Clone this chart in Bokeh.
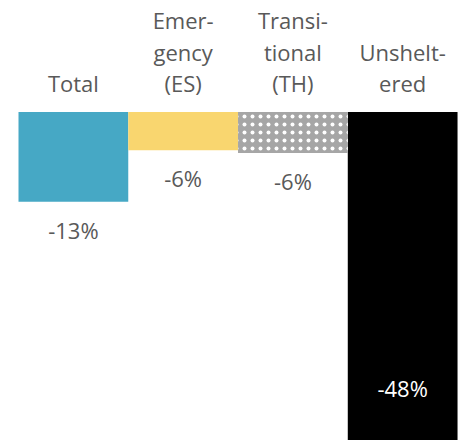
from bokeh.plotting import figure
from bokeh.models import ColumnDataSource, Range1d
from bokeh.core.properties import value
from bokeh.embed import file_html
from bokeh.resources import INLINE

# Data
categories = ["Total", "Emer-\ngency\n(ES)", "Transi-\ntional\n(TH)", "Unshelt-\nered"]
changes = [-13.1, -5.6, -6.0, -48.0]
colors = ["#46A8C5", "#F9D66F", "#A6A6A6", "#000000"]

FONT = "Open Sans"
TEXT_GRAY = "#595959"

p = figure(width=460, height=440, output_backend="svg", toolbar_location=None,
           x_range=Range1d(-0.664, 3.527), y_range=Range1d(-48.0, 16.29),
           min_border=0, background_fill_color="white", border_fill_color="white")
p.xaxis.visible = False
p.yaxis.visible = False
p.grid.visible = False
p.outline_line_color = None

xs = list(range(len(categories)))
plain = [i for i in xs if i != 2]
src = ColumnDataSource(dict(x=[xs[i] for i in plain], top=[0] * len(plain),
                            bottom=[changes[i] for i in plain],
                            color=[colors[i] for i in plain]))
p.vbar(x="x", top="top", bottom="bottom", width=1.0, fill_color="color",
       line_color=None, source=src)

# dotted (hatched) bar
p.vbar(x=[xs[2]], top=[0], bottom=[changes[2]], width=1.0, fill_color=colors[2],
       line_color=None, hatch_pattern="dot", hatch_color="white",
       hatch_scale=8, hatch_weight=1.3)

# header category labels (multi-line, bottom aligned)
hx, htxt, hoff = [], [], []
for i, lab in enumerate(categories):
    lines = lab.split("\n")
    n = len(lines)
    for j, line in enumerate(lines):
        k = n - 1 - j
        hx.append(xs[i])
        htxt.append(line)
        hoff.append(-(28.5 + 31.5 * k))
hsrc = ColumnDataSource(dict(x=hx, y=[0] * len(hx), text=htxt, yo=hoff))
p.text(x="x", y="y", text="text", y_offset="yo", source=hsrc,
       text_align="center", text_baseline="alphabetic",
       text_font=value(FONT), text_font_size="22px", text_color=TEXT_GRAY)

# value labels
vlab = ["%d%%" % round(v) for v in changes]
inside = [abs(v) >= 40 for v in changes]
vsrc = ColumnDataSource(dict(
    x=xs, y=changes, text=vlab,
    yo=[-53 if ins else 28 for ins in inside],
    col=["white" if ins else TEXT_GRAY for ins in inside]))
p.text(x="x", y="y", text="text", y_offset="yo", text_color="col", source=vsrc,
       text_align="center", text_baseline="middle",
       text_font=value(FONT), text_font_size="22px")

open("out.html", "w").write(file_html(p, INLINE))
